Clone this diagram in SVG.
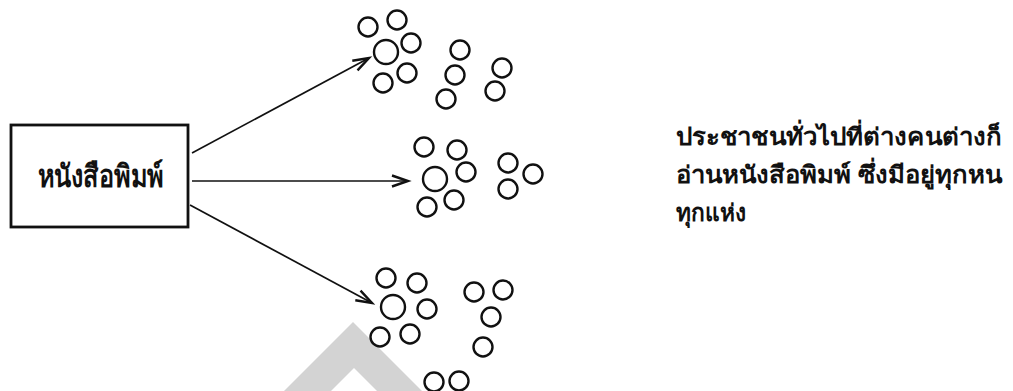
<svg xmlns="http://www.w3.org/2000/svg" width="1013" height="391" viewBox="0 0 1013 391">
<style>
.c{fill:none;stroke:#111;stroke-width:2.4}
.ln{fill:none;stroke:#111;stroke-width:1.7}
.t{font-family:"Noto Sans","DejaVu Sans",sans-serif;font-weight:900;fill:#111}
</style>
<defs>
<marker id="ah" markerUnits="userSpaceOnUse" markerWidth="22" markerHeight="16" refX="18" refY="8" orient="auto">
<path d="M2,2.5 L18,8 L2,13.5" fill="none" stroke="#111" stroke-width="2.4"/>
</marker>
</defs>
<rect width="1013" height="391" fill="#fff"/>
<polygon points="353,322 422,391 377,391 354,368 331,391 284,391" fill="#d3d3d3"/>
<g id="node-newspaper">
<rect x="11" y="125" width="177" height="102" fill="none" stroke="#111" stroke-width="2.8"/>
<text class="t" x="38" y="187" font-size="31" textLength="125" lengthAdjust="spacingAndGlyphs">หนังสือพิมพ์</text>
</g>
<g id="connectors">
<line class="ln" x1="192" y1="153" x2="369" y2="58" marker-end="url(#ah)"/>
<line class="ln" x1="192" y1="181" x2="408" y2="181" marker-end="url(#ah)"/>
<line class="ln" x1="190" y1="205" x2="372" y2="303" marker-end="url(#ah)"/>
</g>
<g id="people-top">
<circle class="c" cx="368" cy="27" r="9.5"/>
<circle class="c" cx="397" cy="20" r="9.5"/>
<circle class="c" cx="386" cy="52" r="12"/>
<circle class="c" cx="411" cy="43" r="9.5"/>
<circle class="c" cx="383" cy="83" r="9.5"/>
<circle class="c" cx="407" cy="73" r="9.5"/>
<circle class="c" cx="460" cy="50" r="9.5"/>
<circle class="c" cx="455" cy="75" r="9.5"/>
<circle class="c" cx="446" cy="99" r="9.5"/>
<circle class="c" cx="502" cy="68" r="9.5"/>
<circle class="c" cx="495" cy="91" r="9.5"/>
</g>
<g id="people-middle">
<circle class="c" cx="424" cy="147" r="9.5"/>
<circle class="c" cx="457" cy="150" r="9.5"/>
<circle class="c" cx="435" cy="179" r="12"/>
<circle class="c" cx="466" cy="172" r="9.5"/>
<circle class="c" cx="454" cy="200" r="9.5"/>
<circle class="c" cx="427" cy="207" r="9.5"/>
<circle class="c" cx="508" cy="163" r="9.5"/>
<circle class="c" cx="533" cy="174" r="9.5"/>
<circle class="c" cx="508" cy="189" r="9.5"/>
</g>
<g id="people-bottom">
<circle class="c" cx="386" cy="278" r="9.5"/>
<circle class="c" cx="417" cy="283" r="9.5"/>
<circle class="c" cx="393" cy="307" r="12"/>
<circle class="c" cx="427" cy="309" r="9.5"/>
<circle class="c" cx="380" cy="337" r="9.5"/>
<circle class="c" cx="410" cy="334" r="9.5"/>
<circle class="c" cx="474" cy="292" r="9.5"/>
<circle class="c" cx="503" cy="290" r="9.5"/>
<circle class="c" cx="491" cy="317" r="9.5"/>
<circle class="c" cx="483" cy="347" r="9.5"/>
<circle class="c" cx="434" cy="382" r="9.5"/>
<circle class="c" cx="459" cy="381" r="9.5"/>
</g>
<g id="caption">
<text class="t" x="676" y="145" font-size="24" textLength="326" lengthAdjust="spacingAndGlyphs">ประชาชนทั่วไปที่ต่างคนต่างก็</text>
<text class="t" x="676" y="183" font-size="24" textLength="326" lengthAdjust="spacingAndGlyphs">อ่านหนังสือพิมพ์ ซึ่งมีอยู่ทุกหน</text>
<text class="t" x="676" y="221" font-size="24" textLength="70" lengthAdjust="spacingAndGlyphs">ทุกแห่ง</text>
</g>
</svg>
